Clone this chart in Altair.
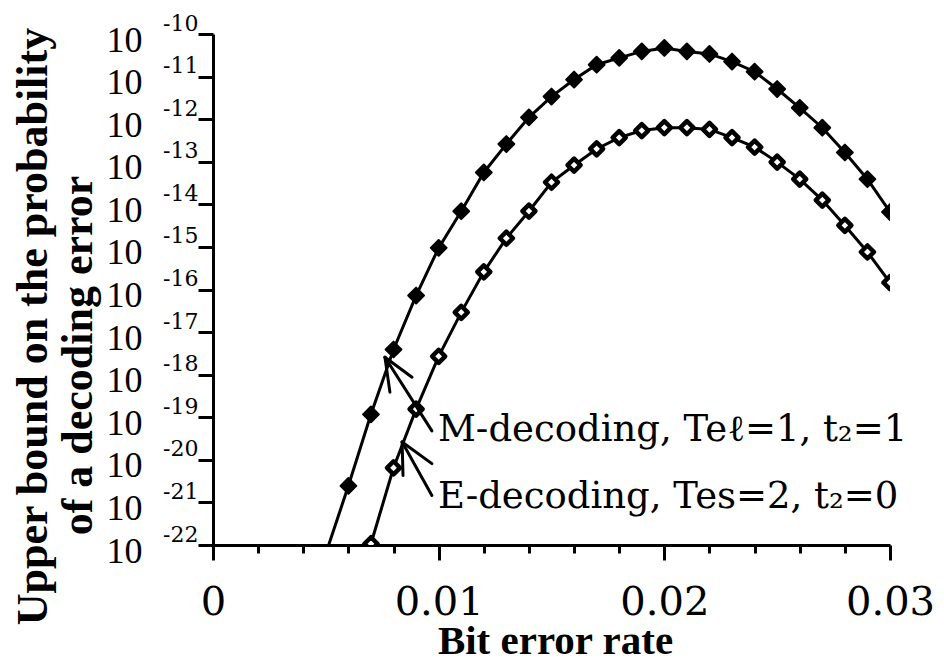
import altair as alt
import pandas as pd

# ---- data ----
m_rate = [0.005, 0.006, 0.007, 0.008, 0.009, 0.010, 0.011, 0.012, 0.013, 0.014,
          0.015, 0.016, 0.017, 0.018, 0.019, 0.020, 0.021, 0.022, 0.023, 0.024,
          0.025, 0.026, 0.027, 0.028, 0.029, 0.030]
m_bound = [6.3e-23, 2.45e-21, 1.17e-19, 3.9e-18, 7.2e-17, 9.5e-16, 6.9e-15, 5.6e-14,
           2.6e-13, 1.1e-12, 3.4e-12, 8.5e-12, 1.9e-11, 2.75e-11, 3.9e-11, 4.7e-11,
           3.9e-11, 3.4e-11, 2.25e-11, 1.3e-11, 5.1e-12, 1.85e-12, 6.3e-13, 1.65e-13,
           3.9e-14, 6.6e-15]

e_rate = [0.007, 0.008, 0.009, 0.010, 0.011, 0.012, 0.013, 0.014, 0.015, 0.016,
          0.017, 0.018, 0.019, 0.020, 0.021, 0.022, 0.023, 0.024, 0.025, 0.026,
          0.027, 0.028, 0.029, 0.030]
e_bound = [1.07e-22, 6.5e-21, 1.55e-19, 2.7e-18, 2.9e-17, 2.6e-16, 1.6e-15, 6.9e-15,
           3.3e-14, 8.3e-14, 2.0e-13, 3.7e-13, 5.4e-13, 6.3e-13, 6.3e-13, 5.75e-13,
           3.7e-13, 2.2e-13, 9.8e-14, 3.9e-14, 1.26e-14, 3.2e-15, 7.6e-16, 1.45e-16]

x_major_ticks = [0, 0.01, 0.02, 0.03]
x_minor_ticks = [0.002, 0.004, 0.006, 0.008, 0.012, 0.014, 0.016, 0.018,
                 0.022, 0.024, 0.026, 0.028]
y_ticks = [1e-10, 1e-11, 1e-12, 1e-13, 1e-14, 1e-15, 1e-16, 1e-17, 1e-18,
           1e-19, 1e-20, 1e-21, 1e-22]

label_texts = ["M-decoding, Teℓ=1, t₂=1", "E-decoding, Tes=2, t₂=0"]
label_rate = [0.00997, 0.00997]
label_bound = [2.75e-20, 7.2e-22]

# arrow segments (tip -> end) in data coordinates
arrow_x = [0.00762, 0.00762, 0.00762, 0.00838, 0.00838, 0.00838]
arrow_y = [2.57e-18, 2.57e-18, 2.57e-18, 2.63e-20, 2.63e-20, 2.63e-20]
arrow_x2 = [0.00970, 0.00784, 0.00882, 0.00970, 0.00842, 0.00970]
arrow_y2 = [4.79e-20, 3.89e-19, 8.71e-19, 1.45e-21, 4.27e-21, 8.13e-21]

# ---- tables ----
rows = [{"series": "M", "rate": x, "bound": y} for x, y in zip(m_rate, m_bound)]
rows += [{"series": "E", "rate": x, "bound": y} for x, y in zip(e_rate, e_bound)]
df = pd.DataFrame(rows)
arrows = pd.DataFrame({"x": arrow_x, "y": arrow_y, "x2": arrow_x2, "y2": arrow_y2})
labels = pd.DataFrame({"rate": label_rate, "bound": label_bound, "text": label_texts})

xscale = alt.Scale(domain=[0, 0.03], nice=False, zero=False)
yscale = alt.Scale(type="log", domain=[1e-22, 1e-10], nice=False)

x_major = alt.Axis(
    orient="bottom", values=x_major_ticks,
    labelExpr="datum.value == 0 ? '0' : format(datum.value, '.2f')",
    tickSize=15, tickWidth=3, tickColor="black",
    domainWidth=3, domainColor="black", grid=False,
    labelFont="DejaVu Serif", labelFontSize=40, labelColor="black",
    labelBaseline="alphabetic", labelPadding=54, labelFlush=False, labelOverlap=False,
    title="Bit error rate", titleFont="Liberation Serif", titleFontSize=41,
    titleFontWeight="bold", titleColor="black", titleBaseline="alphabetic",
    titleAlign="center", titleX=342, titleY=108,
)
x_minor = alt.Axis(
    orient="bottom", values=x_minor_ticks, labels=False, domain=False, grid=False,
    tickSize=8, tickWidth=3, tickColor="black", title="",
)
y_main = alt.Axis(
    orient="left", values=y_ticks, labelExpr="'10'",
    tickSize=15, tickWidth=3, tickColor="black",
    domainWidth=3, domainColor="black", grid=False,
    labelFont="Liberation Serif", labelFontSize=36, labelColor="black",
    labelAlign="right", labelBaseline="middle", labelOffset=6, labelPadding=56,
    labelOverlap=False,
    title="Upper bound on the probability", titleFont="Liberation Serif",
    titleFontSize=44, titleFontWeight="bold", titleColor="black",
    titleAngle=270, titleAlign="center", titleBaseline="alphabetic",
    titleX=-167, titleY=292,
)
y_exp = alt.Axis(
    orient="left", values=y_ticks,
    labelExpr="'-' + round(-log(datum.value) / LN10)",
    ticks=False, tickSize=0, domain=False, grid=False,
    labelFont="DejaVu Serif", labelFontSize=22, labelColor="black",
    labelAlign="right", labelBaseline="middle", labelOffset=-11, labelPadding=15,
    labelOverlap=False,
    title="of a decoding error", titleFont="Liberation Serif",
    titleFontSize=44, titleFontWeight="bold", titleColor="black",
    titleAngle=270, titleAlign="center", titleBaseline="alphabetic",
    titleX=-122, titleY=321,
)

base = alt.Chart(df)

lines = base.mark_line(color="black", strokeWidth=3, clip=True).encode(
    x=alt.X("rate:Q", scale=xscale, axis=x_major),
    y=alt.Y("bound:Q", scale=yscale, axis=y_main),
    detail="series:N",
)

pts_m = base.transform_filter(alt.datum.series == "M").mark_point(
    shape="diamond", size=250, filled=True, fill="black", stroke="black",
    strokeWidth=2, strokeJoin="round", opacity=1, clip=True
).encode(
    x=alt.X("rate:Q", scale=xscale, axis=x_minor),
    y=alt.Y("bound:Q", scale=yscale, axis=y_exp),
)

pts_e = base.transform_filter(alt.datum.series == "E").mark_point(
    shape="diamond", size=170, fill="white", fillOpacity=1, stroke="black",
    strokeWidth=4.5, strokeJoin="round", opacity=1, clip=True
).encode(
    x=alt.X("rate:Q", scale=xscale, axis=None),
    y=alt.Y("bound:Q", scale=yscale, axis=None),
)

arrow_layer = alt.Chart(arrows).mark_rule(
    color="black", strokeWidth=3, strokeCap="round"
).encode(
    x=alt.X("x:Q", scale=xscale, axis=None),
    y=alt.Y("y:Q", scale=yscale, axis=None),
    x2="x2:Q",
    y2="y2:Q",
)

text_layer = alt.Chart(labels).mark_text(
    align="left", baseline="alphabetic", font="DejaVu Serif", fontSize=37,
    color="black"
).encode(
    x=alt.X("rate:Q", scale=xscale, axis=None),
    y=alt.Y("bound:Q", scale=yscale, axis=None),
    text="text:N",
)

chart = alt.layer(lines, pts_m, pts_e, arrow_layer, text_layer).resolve_axis(
    x="independent", y="independent"
).properties(
    width=677, height=511,
    autosize=alt.AutoSizeParams(type="none"),
    padding={"left": 213, "top": 34, "right": 54, "bottom": 116},
    background="white",
).configure_view(stroke=None)

chart.save("out.html", embed_options={"renderer": "svg", "actions": False})
